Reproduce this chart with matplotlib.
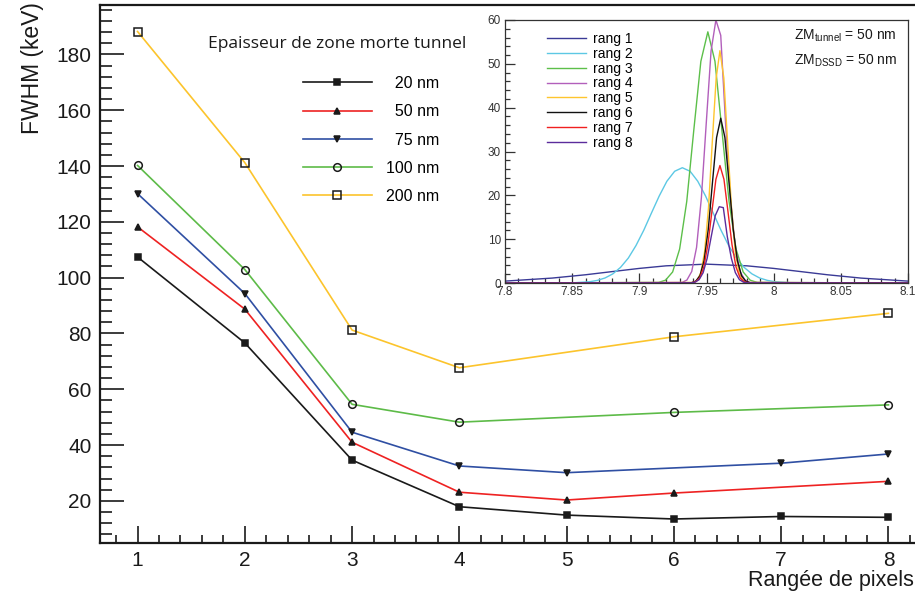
import matplotlib
matplotlib.use('Agg')
import matplotlib.pyplot as plt
from matplotlib.ticker import MultipleLocator, FormatStrFormatter

plt.rcParams['font.family'] = ['Liberation Sans', 'DejaVu Sans']
plt.rcParams['mathtext.fontset'] = 'custom'
plt.rcParams['mathtext.rm'] = 'Liberation Sans'

# ---------------- main chart data ----------------
labels_main = ['20 nm', '50 nm', '75 nm', '100 nm', '200 nm']
s20_x = [1, 2, 3, 4, 5, 6, 7, 8]
s20_y = [107.4, 76.6, 34.6, 17.9, 14.9, 13.5, 14.4, 14.1]
s50_x = [1, 2, 3, 4, 5, 6, 8]
s50_y = [118.2, 88.7, 41.0, 23.1, 20.3, 22.8, 27.0]
s75_x = [1, 2, 3, 4, 5, 7, 8]
s75_y = [130.1, 94.3, 44.6, 32.5, 30.1, 33.5, 36.8]
s100_x = [1, 2, 3, 4, 6, 8]
s100_y = [140.2, 102.9, 54.6, 48.2, 51.7, 54.4]
s200_x = [1, 2, 3, 4, 6, 8]
s200_y = [188.2, 141.2, 81.2, 67.7, 78.8, 87.2]

x_ticks = [1, 2, 3, 4, 5, 6, 7, 8]
y_ticks = [20, 40, 60, 80, 100, 120, 140, 160, 180]

# ---------------- inset data ----------------
rang1_x = [7.80, 7.835, 7.86, 7.88, 7.90, 7.92, 7.95, 7.98, 8.00, 8.02, 8.04, 8.065, 8.10]
rang1_y = [0.43, 1.12, 1.88, 2.61, 3.33, 3.92, 4.30, 3.92, 3.33, 2.61, 1.88, 1.12, 0.43]

rang2_x = [7.80, 7.8515, 7.863, 7.8688, 7.8745, 7.8803, 7.886, 7.8918, 7.8975, 7.9033,
           7.909, 7.9148, 7.9205, 7.9263, 7.932, 7.9378, 7.9435, 7.9493, 7.955, 7.9608,
           7.9665, 7.9723, 7.978, 7.9838, 7.9895, 7.9953, 8.001, 8.0125, 8.10]
rang2_y = [0.0, 0.06, 0.29, 0.60, 1.15, 2.09, 3.56, 5.69, 8.54, 12.04,
           15.95, 19.85, 23.21, 25.49, 26.3, 25.49, 23.21, 19.85, 15.95, 12.04,
           8.54, 5.69, 3.56, 2.09, 1.15, 0.60, 0.29, 0.06, 0.0]

rang3_x = [7.80, 7.9143, 7.9195, 7.9248, 7.930, 7.9353, 7.9405, 7.9458, 7.951,
           7.9563, 7.9615, 7.9668, 7.972, 7.9773, 7.9825, 7.9878, 8.10]
rang3_y = [0.0, 0.13, 0.64, 2.52, 7.75, 18.61, 34.75, 50.57, 57.3,
           50.57, 34.75, 18.61, 7.75, 2.52, 0.64, 0.13, 0.0]

rang4_x = [7.80, 7.9318, 7.9354, 7.939, 7.9426, 7.9462, 7.9498, 7.9534, 7.957,
           7.9606, 7.9642, 7.9678, 7.9714, 7.975, 7.9786, 7.9822, 8.10]
rang4_y = [0.0, 0.13, 0.67, 2.63, 8.12, 19.48, 36.39, 52.95, 60.0,
           56.5, 36.39, 19.48, 8.12, 2.63, 0.67, 0.13, 0.0]

rang5_x = [7.80, 7.94, 7.9429, 7.9458, 7.9486, 7.9515, 7.9543, 7.9572, 7.96,
           7.9629, 7.9657, 7.9686, 7.9714, 7.9743, 7.9771, 7.98, 8.10]
rang5_y = [0.0, 0.12, 0.59, 2.33, 7.17, 17.21, 32.14, 46.77, 53.0,
           46.77, 32.14, 17.21, 7.17, 2.33, 0.59, 0.12, 0.0]

rang6_x = [7.80, 7.9389, 7.942, 7.9451, 7.9482, 7.9513, 7.9544, 7.9575, 7.9606,
           7.9637, 7.9668, 7.9699, 7.973, 7.9761, 7.9792, 7.9823, 8.10]
rang6_y = [0.0, 0.08, 0.42, 1.65, 5.09, 12.21, 22.8, 33.18, 37.6,
           33.18, 22.8, 12.21, 5.09, 1.65, 0.42, 0.08, 0.0]

rang7_x = [7.80, 7.939, 7.942, 7.945, 7.948, 7.951, 7.954, 7.957, 7.96,
           7.963, 7.966, 7.969, 7.972, 7.975, 7.978, 7.981, 8.10]
rang7_y = [0.0, 0.06, 0.30, 1.18, 3.63, 8.70, 16.25, 23.65, 26.8,
           23.65, 16.25, 8.70, 3.63, 1.18, 0.30, 0.06, 0.0]

rang8_x = [7.80, 7.9385, 7.9415, 7.9445, 7.9475, 7.9505, 7.9535, 7.9565, 7.9595,
           7.9625, 7.9655, 7.9685, 7.9715, 7.9745, 7.9775, 7.9805, 8.10]
rang8_y = [0.0, 0.04, 0.19, 0.76, 2.35, 5.65, 10.55, 15.36, 17.4,
           17.2, 10.55, 5.65, 2.35, 0.76, 0.19, 0.04, 0.0]

inset_labels = ['rang 1', 'rang 2', 'rang 3', 'rang 4', 'rang 5', 'rang 6', 'rang 7', 'rang 8']
inset_xticks = [7.8, 7.85, 7.9, 7.95, 8.0, 8.05, 8.1]
inset_yticks = [0, 10, 20, 30, 40, 50, 60]

# ---------------- figure ----------------
W, H = 915, 593
fig = plt.figure(figsize=(W / 100, H / 100), dpi=100)
ax = fig.add_axes([100 / W, 50 / H, 826 / W, 538 / H])

main_series = [
    (s20_x, s20_y, '#1a1a1a', 's', '#1a1a1a', 5.0),
    (s50_x, s50_y, '#ee2222', '^', '#1a1a1a', 5.0),
    (s75_x, s75_y, '#2f4fa3', 'v', '#1a1a1a', 5.0),
    (s100_x, s100_y, '#5dbb48', 'o', 'none', 5.5),
    (s200_x, s200_y, '#fcc42c', 's', 'none', 5.5),
]
handles = []
for (xs, ys, col, mk, mfc, ms), lab in zip(main_series, labels_main):
    ln, = ax.plot(xs, ys, color=col, lw=1.2, marker=mk, ms=ms,
                  mfc=mfc, mec='#1a1a1a', mew=1.1, label=lab)
    handles.append(ln)

ax.set_xlim(0.65, 8.35)
ax.set_ylim(4.9, 197.7)
ax.set_xticks(x_ticks)
ax.set_yticks(y_ticks)
ax.xaxis.set_minor_locator(MultipleLocator(0.2))
ax.yaxis.set_minor_locator(MultipleLocator(4))
ax.tick_params(axis='both', which='both', direction='in', width=1.2,
               top=False, right=False, labelsize=15, colors='#1a1a1a')
ax.tick_params(axis='y', which='major', length=17, pad=6)
ax.tick_params(axis='y', which='minor', length=8.5)
ax.tick_params(axis='x', which='major', length=12, pad=6)
ax.tick_params(axis='x', which='minor', length=6)
for sp in ax.spines.values():
    sp.set_linewidth(1.6)
    sp.set_color('#1a1a1a')

fig.text(33 / W, 1 - 2 / H, 'FWHM (keV)', rotation=90, ha='center', va='top',
         fontsize=16.5, color='#1a1a1a')
fig.text(1 - 1 / W, 2 / H, 'Rangée de pixels', ha='right', va='bottom',
         fontsize=15.5, color='#1a1a1a')

fig.text(337 / W, 1 - 44 / H, 'Epaisseur de zone morte tunnel', ha='center',
         va='center', fontsize=12.5, family=['Open Sans', 'DejaVu Sans'], color='#1a1a1a')

leg_labels = ['\u2007' + l if len(l) < 6 else l for l in labels_main]
ax.legend(handles, leg_labels, loc='upper left', bbox_to_anchor=(303 / W, 1 - 76 / H),
          bbox_transform=fig.transFigure, frameon=False, fontsize=11.5,
          handlelength=4.3, handletextpad=0.9, labelspacing=0.83,
          borderpad=0, borderaxespad=0, numpoints=1)

# ---------------- inset ----------------
ax2 = fig.add_axes([505 / W, 1 - 283 / H, 403 / W, 263 / H])
inset_series = [
    (rang1_x, rang1_y, '#3a3a96'),
    (rang2_x, rang2_y, '#5cc8e4'),
    (rang3_x, rang3_y, '#5cbf4a'),
    (rang4_x, rang4_y, '#b25fbb'),
    (rang5_x, rang5_y, '#fec52e'),
    (rang6_x, rang6_y, '#111111'),
    (rang7_x, rang7_y, '#f02020'),
    (rang8_x, rang8_y, '#5b2c9c'),
]
ih = []
for (xs, ys, col), lab in zip(inset_series, inset_labels):
    ln, = ax2.plot(xs, ys, color=col, lw=1.0, label=lab)
    ih.append(ln)
ax2.set_xlim(7.8, 8.1)
ax2.set_ylim(0, 60)
ax2.set_xticks(inset_xticks)
ax2.set_yticks(inset_yticks)
ax2.xaxis.set_major_formatter(FormatStrFormatter('%g'))
ax2.xaxis.set_minor_locator(MultipleLocator(0.01))
ax2.yaxis.set_minor_locator(MultipleLocator(2))
ax2.tick_params(axis='both', which='both', direction='in', width=0.9,
                top=False, right=False, labelsize=8.5, colors='#333333')
ax2.tick_params(axis='x', which='major', length=7, pad=2)
ax2.tick_params(axis='y', which='major', length=7, pad=3)
ax2.tick_params(axis='both', which='minor', length=3.5)
for sp in ax2.spines.values():
    sp.set_linewidth(0.9)
    sp.set_color('#333333')

ax2.legend(ih, inset_labels, loc='upper left', bbox_to_anchor=(547 / W, 1 - 32 / H),
           bbox_transform=fig.transFigure, frameon=False, fontsize=10,
           handlelength=2.8, handletextpad=0.5, labelspacing=0.06,
           borderpad=0, borderaxespad=0)

fig.text(897 / W, 1 - 36 / H, r'ZM$_{\mathregular{tunnel}}$ = 50 nm', ha='right',
         va='center', fontsize=10, color='#1a1a1a')
fig.text(897 / W, 1 - 61 / H, r'ZM$_{\mathregular{DSSD}}$ = 50 nm', ha='right',
         va='center', fontsize=10, color='#1a1a1a')

fig.savefig('out.png', dpi=100)
